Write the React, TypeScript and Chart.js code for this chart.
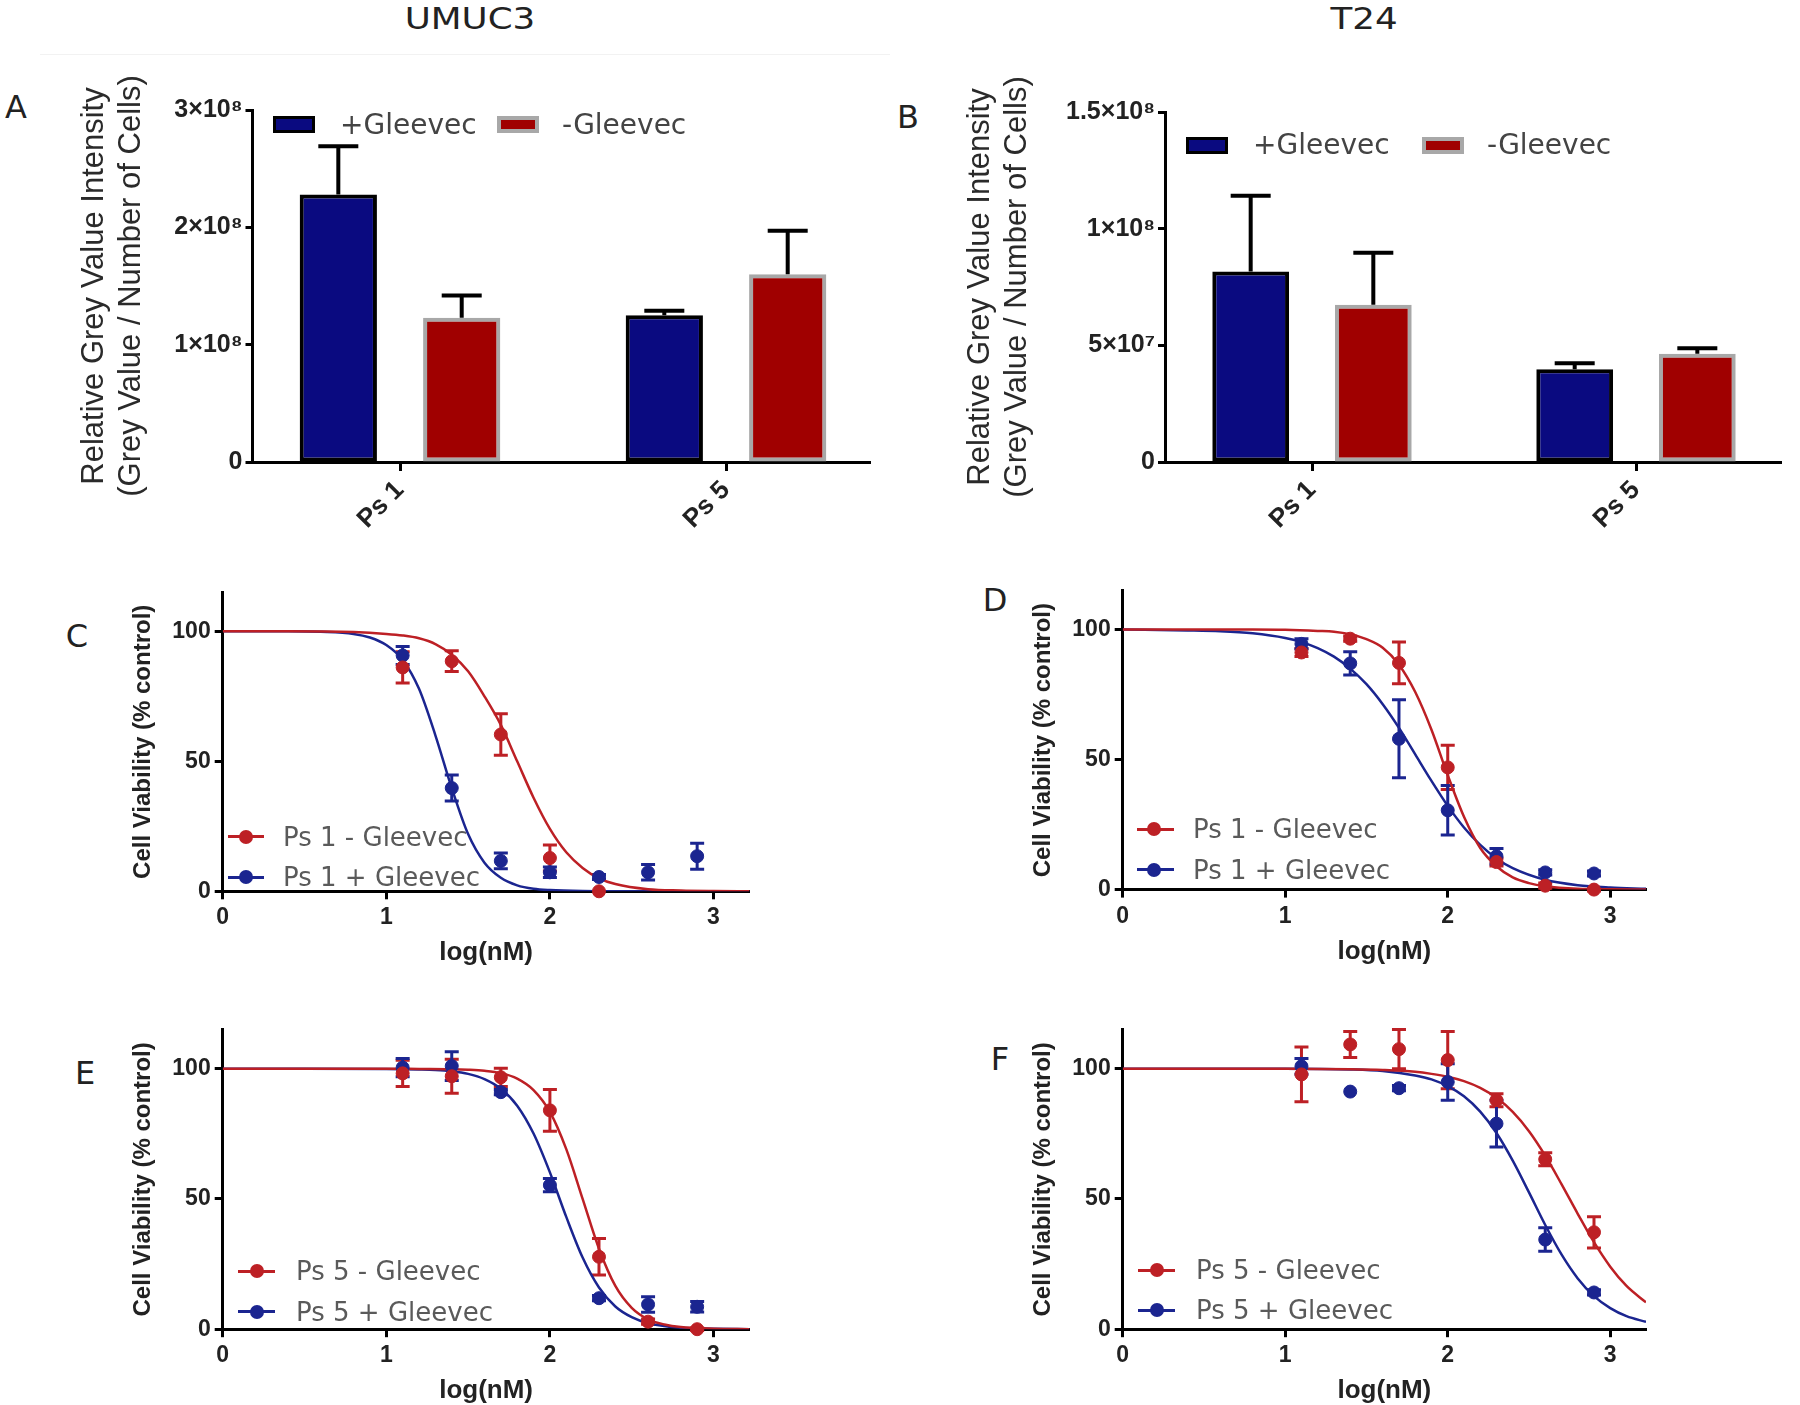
import React, { useEffect, useRef } from 'react';
import { Chart, registerables } from 'chart.js';

Chart.register(...registerables);
Chart.defaults.font.family = "'Liberation Sans', Arial, sans-serif";
Chart.defaults.color = '#222';

// ---------------- DATA ----------------
const BAR_CATEGORIES = ['Ps 1', 'Ps 5'];
const BAR_SERIES = ['+Gleevec', '-Gleevec'];

const UMUC3_PLUS = [2.28e8, 1.25e8];
const UMUC3_PLUS_ERR = [0.41e8, 0.04e8];
const UMUC3_MINUS = [1.23e8, 1.6e8];
const UMUC3_MINUS_ERR = [0.19e8, 0.37e8];
const UMUC3_TICKS = [0, 1e8, 2e8, 3e8];
const UMUC3_TICK_LABELS = ['0', '1×10⁸', '2×10⁸', '3×10⁸'];

const T24_PLUS = [8.16e7, 3.98e7];
const T24_PLUS_ERR = [3.25e7, 0.25e7];
const T24_MINUS = [6.74e7, 4.64e7];
const T24_MINUS_ERR = [2.23e7, 0.23e7];
const T24_TICKS = [0, 5e7, 1e8, 1.5e8];
const T24_TICK_LABELS = ['0', '5×10⁷', '1×10⁸', '1.5×10⁸'];

const DOSE_LOG = [1.1, 1.4, 1.7, 2.0, 2.3, 2.6, 2.9];
const X_TICKS = [0, 1, 2, 3];
const Y_TICKS = [0, 50, 100];

// C – UMUC3, Ps 1
const C_MINUS = [86.1, 88.5, 60.3, 12.8, 0, null, null];
const C_MINUS_ERR = [6, 4, 8, 5, 0, null, null];
const C_PLUS = [90.7, 39.7, 11.7, 7.3, 5.5, 7.3, 13.5];
const C_PLUS_ERR = [3.5, 5, 3, 2, 1, 3, 5];
const C_MINUS_FIT_X = [0, 0.4, 0.8, 1.0, 1.1, 1.2, 1.3, 1.4, 1.5, 1.6, 1.7, 1.8, 1.9, 2.0, 2.1, 2.2, 2.3, 2.4, 2.6, 2.8, 3.0, 3.22];
const C_MINUS_FIT_Y = [100, 100, 99.7, 99, 98.4, 97.3, 95.1, 91, 84.6, 75, 64, 50, 36, 24, 15, 9, 5, 2.8, 0.8, 0.3, 0.1, 0];
const C_PLUS_FIT_X = [0, 0.4, 0.6, 0.8, 0.9, 1.0, 1.1, 1.2, 1.3, 1.4, 1.5, 1.6, 1.7, 1.8, 1.9, 2.0, 2.2, 2.4, 3.22];
const C_PLUS_FIT_Y = [100, 100, 99.8, 99, 97.6, 94.7, 89, 77.9, 60, 39.7, 22, 11, 5.2, 2.3, 1.0, 0.5, 0.1, 0, 0];

// D – T24, Ps 1
const D_MINUS = [91.2, 96.5, 87.2, 47, 10.6, 1.5, 0];
const D_MINUS_ERR = [1.5, 1, 8, 8.5, 1.5, 1, 0.5];
const D_PLUS = [94.5, 87, 58, 30.5, 12.8, 6.6, 6.2];
const D_PLUS_ERR = [2, 4.5, 15, 9.5, 3, 1, 1];
const D_MINUS_FIT_X = [0, 0.4, 0.8, 1.0, 1.2, 1.3, 1.4, 1.5, 1.6, 1.7, 1.8, 1.9, 2.0, 2.1, 2.2, 2.3, 2.4, 2.5, 2.6, 2.8, 3.0, 3.22];
const D_MINUS_FIT_Y = [100, 100, 100, 99.9, 99.5, 99.2, 98.2, 96.3, 93, 86.5, 76, 61.5, 44, 28, 16, 9, 4.7, 2.5, 1.3, 0.3, 0.1, 0];
const D_PLUS_FIT_X = [0, 0.4, 0.6, 0.8, 1.0, 1.1, 1.2, 1.3, 1.4, 1.5, 1.6, 1.7, 1.8, 1.9, 2.0, 2.1, 2.2, 2.3, 2.4, 2.6, 2.8, 3.0, 3.22];
const D_PLUS_FIT_Y = [100, 99.7, 99.4, 98.6, 96.8, 95.2, 92.9, 89.6, 85, 79, 71.3, 62.2, 52, 41.8, 32.2, 23.9, 17.2, 12, 8.3, 3.8, 1.7, 0.8, 0.3];

// E – UMUC3, Ps 5
const E_MINUS = [98.2, 97.1, 96.7, 84, 27.8, 2.9, 0];
const E_MINUS_ERR = [5, 6.5, 3.5, 8, 7, 1, 0.5];
const E_PLUS = [100.4, 101, 91, 55.3, 11.9, 9.5, 8.6];
const E_PLUS_ERR = [3.5, 5.5, 1, 2.5, 1, 3, 2];
const E_MINUS_FIT_X = [0, 0.5, 1.0, 1.2, 1.4, 1.5, 1.6, 1.7, 1.8, 1.9, 2.0, 2.1, 2.2, 2.3, 2.4, 2.5, 2.6, 2.7, 2.8, 3.0, 3.22];
const E_MINUS_FIT_Y = [100, 100, 100, 99.9, 99.8, 99.6, 99.2, 98.3, 96.2, 91.8, 83.4, 69.1, 50, 30.9, 16.6, 8.2, 3.8, 1.8, 0.8, 0.2, 0];
const E_PLUS_FIT_X = [0, 0.5, 1.0, 1.2, 1.3, 1.4, 1.5, 1.6, 1.7, 1.8, 1.9, 2.0, 2.1, 2.2, 2.3, 2.4, 2.5, 2.6, 2.8, 3.0, 3.22];
const E_PLUS_FIT_Y = [100, 100, 99.9, 99.7, 99.5, 99, 98, 96, 92.3, 85.8, 75.1, 60.2, 43.1, 27.5, 16, 8.7, 4.6, 2.3, 0.6, 0.2, 0];

// F – T24, Ps 5
const F_MINUS = [97.8, 109.3, 107.5, 103.3, 87.9, 65.2, 37.2];
const F_MINUS_ERR = [10.5, 5, 7.5, 11, 2.5, 2.5, 6];
const F_PLUS = [100.9, 91.2, 92.5, 94.9, 78.9, 34.4, 14.1];
const F_PLUS_ERR = [3, 0, 1, 7, 9, 4.5, 1];
const F_MINUS_FIT_X = [0, 0.5, 1.0, 1.4, 1.6, 1.8, 1.9, 2.0, 2.1, 2.2, 2.3, 2.4, 2.5, 2.6, 2.7, 2.8, 2.9, 3.0, 3.1, 3.22];
const F_MINUS_FIT_Y = [100, 100, 100, 99.8, 99.5, 98.8, 98, 96.9, 95.2, 92.6, 88.8, 83.4, 76, 66.6, 55.7, 44.3, 33.4, 24, 16.6, 10.3];
const F_PLUS_FIT_X = [0, 0.5, 1.0, 1.4, 1.6, 1.8, 1.9, 2.0, 2.1, 2.2, 2.3, 2.4, 2.5, 2.6, 2.7, 2.8, 2.9, 3.0, 3.1, 3.22];
const F_PLUS_FIT_Y = [100, 100, 100, 99.7, 99.1, 97.4, 95.9, 93.3, 89.4, 83.5, 75.3, 64.7, 52.5, 40, 28.7, 19.5, 12.7, 8.1, 5, 2.8];

// ---------------- STYLE ----------------
const NAVY = '#0a0a80';
const DARK_RED = '#a00000';
const RED = '#bd2025';
const BLUE = '#1b2590';
const DEJAVU = "'DejaVu Sans', sans-serif";

type Geo = { cl: number; ct: number; cw: number; ch: number; pl: number; pt: number; pr: number; pb: number };

function padFor(g: Geo, yW: number, xH: number) {
  return {
    left: g.pl - g.cl - yW,
    top: g.pt - g.ct,
    right: g.cl + g.cw - g.pr,
    bottom: g.ct + g.ch - g.pb - xH,
  };
}

function yOf(d: any) {
  return typeof d === 'object' && d !== null ? d.y : d;
}

const errorBarPlugin = {
  id: 'errorBars',
  beforeDatasetsDraw(chart: any) {
    const mode = chart.options.plugins.errorBars?.mode;
    if (mode !== 'point') return;
    const ctx = chart.ctx;
    const ys = chart.scales.y;
    chart.data.datasets.forEach((ds: any, i: number) => {
      if (!ds.errors) return;
      const meta = chart.getDatasetMeta(i);
      ctx.save();
      ctx.strokeStyle = ds.borderColor;
      ctx.lineWidth = 3;
      meta.data.forEach((el: any, j: number) => {
        const e = ds.errors[j];
        const v = yOf(ds.data[j]);
        if (!e) return;
        const yt = ys.getPixelForValue(v + e);
        const yb = ys.getPixelForValue(v - e);
        const x = el.x;
        ctx.beginPath();
        ctx.moveTo(x, yt);
        ctx.lineTo(x, yb);
        ctx.moveTo(x - 7, yt);
        ctx.lineTo(x + 7, yt);
        ctx.moveTo(x - 7, yb);
        ctx.lineTo(x + 7, yb);
        ctx.stroke();
      });
      ctx.restore();
    });
  },
  afterDatasetsDraw(chart: any) {
    const mode = chart.options.plugins.errorBars?.mode;
    if (mode !== 'bar') return;
    const ctx = chart.ctx;
    const ys = chart.scales.y;
    chart.data.datasets.forEach((ds: any, i: number) => {
      if (!ds.errors) return;
      const meta = chart.getDatasetMeta(i);
      ctx.save();
      ctx.strokeStyle = '#000';
      ctx.lineWidth = 4;
      meta.data.forEach((el: any, j: number) => {
        const e = ds.errors[j];
        const v = yOf(ds.data[j]);
        const yt = ys.getPixelForValue(v + e);
        const x = el.x;
        ctx.beginPath();
        ctx.moveTo(x, el.y);
        ctx.lineTo(x, yt);
        ctx.moveTo(x - 20, yt);
        ctx.lineTo(x + 20, yt);
        ctx.stroke();
      });
      ctx.restore();
    });
  },
};

function barPoints(vals: number[]) {
  return vals.map((v, i) => ({ x: i + 1, y: v }));
}

function barConfig(
  g: Geo, yW: number, titlePad: number, xMin: number, xMax: number,
  plus: number[], plusErr: number[], minus: number[], minusErr: number[],
  tickVals: number[], tickLabels: string[],
) {
  const X_H = 110;
  const common = { borderWidth: 4, borderSkipped: false, barPercentage: 0.626, categoryPercentage: 0.757 };
  return {
    type: 'bar',
    data: {
      datasets: [
        { label: BAR_SERIES[0], data: barPoints(plus), errors: plusErr, backgroundColor: NAVY, borderColor: '#000', ...common },
        { label: BAR_SERIES[1], data: barPoints(minus), errors: minusErr, backgroundColor: DARK_RED, borderColor: '#a8a8a8', ...common },
      ],
    },
    options: {
      responsive: false,
      animation: false,
      layout: { padding: padFor(g, yW, X_H) },
      plugins: { legend: { display: false }, tooltip: { enabled: false }, errorBars: { mode: 'bar' } },
      scales: {
        x: {
          type: 'linear',
          min: xMin,
          max: xMax,
          offset: false,
          afterBuildTicks: (s: any) => { s.ticks = BAR_CATEGORIES.map((_c, i) => ({ value: i + 1 })); },
          grid: { display: true, drawOnChartArea: false, offset: false, tickLength: 9, tickWidth: 3, tickColor: '#000' },
          border: { display: true, color: '#000', width: 3 },
          ticks: {
            font: { size: 26, weight: 'bold' }, color: '#222', minRotation: 45, maxRotation: 45, padding: 4, autoSkip: false,
            callback: (_v: any, i: number) => BAR_CATEGORIES[i],
          },
          afterFit: (s: any) => { s.height = X_H; },
        },
        y: {
          type: 'linear',
          min: tickVals[0],
          max: tickVals[tickVals.length - 1],
          afterBuildTicks: (s: any) => { s.ticks = tickVals.map((v) => ({ value: v })); },
          grid: { display: true, drawOnChartArea: false, tickLength: 7, tickWidth: 3, tickColor: '#000' },
          border: { display: true, color: '#000', width: 3 },
          ticks: {
            font: { size: 25, weight: 'bold' }, color: '#222', padding: 3,
            callback: (_v: any, i: number) => tickLabels[i],
          },
          title: {
            display: true,
            text: ['Relative Grey Value Intensity', '(Grey Value / Number of Cells)'],
            font: { size: 31, lineHeight: 1.2 },
            color: '#2a2a2a',
            padding: { top: titlePad, bottom: 0 },
          },
          afterFit: (s: any) => { s.width = yW; },
        },
      },
    },
    plugins: [errorBarPlugin],
  };
}

function pts(mean: (number | null)[]) {
  const out: { x: number; y: number }[] = [];
  mean.forEach((m, i) => { if (m !== null) out.push({ x: DOSE_LOG[i], y: m }); });
  return out;
}
function errs(mean: (number | null)[], err: (number | null)[]) {
  const out: number[] = [];
  mean.forEach((m, i) => { if (m !== null) out.push(err[i] as number); });
  return out;
}
function fit(xs: number[], ys: number[]) {
  return xs.map((x, i) => ({ x, y: ys[i] }));
}

function curveConfig(
  g: Geo,
  minus: (number | null)[], minusErr: (number | null)[], plus: (number | null)[], plusErr: (number | null)[],
  mfx: number[], mfy: number[], pfx: number[], pfy: number[],
) {
  const Y_W = 122.7;
  const X_H = 75;
  return {
    type: 'scatter',
    data: {
      datasets: [
        {
          data: pts(minus), errors: errs(minus, minusErr), showLine: false,
          pointRadius: 6.5, pointBackgroundColor: RED, pointBorderColor: RED, borderColor: RED, backgroundColor: RED, clip: false,
        },
        {
          data: pts(plus), errors: errs(plus, plusErr), showLine: false,
          pointRadius: 6.5, pointBackgroundColor: BLUE, pointBorderColor: BLUE, borderColor: BLUE, backgroundColor: BLUE, clip: false,
        },
        {
          data: fit(mfx, mfy), showLine: true, pointRadius: 0, borderColor: RED, borderWidth: 2.5,
          cubicInterpolationMode: 'monotone', fill: false,
        },
        {
          data: fit(pfx, pfy), showLine: true, pointRadius: 0, borderColor: BLUE, borderWidth: 2.5,
          cubicInterpolationMode: 'monotone', fill: false,
        },
      ],
    },
    options: {
      responsive: false,
      animation: false,
      layout: { padding: padFor(g, Y_W, X_H) },
      plugins: { legend: { display: false }, tooltip: { enabled: false }, errorBars: { mode: 'point' } },
      scales: {
        x: {
          type: 'linear', min: 0, max: 3.22,
          afterBuildTicks: (s: any) => { s.ticks = X_TICKS.map((v) => ({ value: v })); },
          grid: { display: true, drawOnChartArea: false, tickLength: 8, tickWidth: 3, tickColor: '#000' },
          border: { display: true, color: '#000', width: 3 },
          ticks: { font: { size: 23, weight: 'bold' }, color: '#222', padding: 5, maxRotation: 0, callback: (v: any) => String(v) },
          title: {
            display: true, text: 'log(nM)', font: { size: 26, weight: 'bold', lineHeight: 1.0 }, color: '#222',
            padding: { top: 0, bottom: 0 },
          },
          afterFit: (s: any) => { s.height = X_H; },
        },
        y: {
          type: 'linear', min: 0, max: 115,
          afterBuildTicks: (s: any) => { s.ticks = Y_TICKS.map((v) => ({ value: v })); },
          grid: { display: true, drawOnChartArea: false, tickLength: 8, tickWidth: 3, tickColor: '#000' },
          border: { display: true, color: '#000', width: 3 },
          ticks: { font: { size: 23, weight: 'bold' }, color: '#222', padding: 4, callback: (v: any) => String(v) },
          title: {
            display: true, text: 'Cell Viability (% control)', font: { size: 24, weight: 'bold', lineHeight: 1.2 }, color: '#222',
            padding: { top: 29.1, bottom: 0 },
          },
          afterFit: (s: any) => { s.width = Y_W; },
        },
      },
    },
    plugins: [errorBarPlugin],
  };
}

function ChartBox({ geo, make }: { geo: Geo; make: () => any }) {
  const ref = useRef<HTMLCanvasElement | null>(null);
  useEffect(() => {
    if (!ref.current) return;
    const chart = new Chart(ref.current, make());
    return () => chart.destroy();
  }, []);
  return (
    <canvas
      ref={ref}
      width={geo.cw}
      height={geo.ch}
      style={{ position: 'absolute', left: geo.cl, top: geo.ct, width: geo.cw, height: geo.ch }}
    />
  );
}

function Text({ x, y, children, size, family = DEJAVU, color = '#222', anchor = 'center', weight = 'normal', sx = 1 }: any) {
  const tx = anchor === 'center' ? '-50%' : '0';
  return (
    <div
      style={{
        position: 'absolute', left: x, top: y, whiteSpace: 'nowrap',
        transform: `translate(${tx}, -50%) scaleX(${sx})`,
        transformOrigin: anchor === 'center' ? 'center' : 'left center',
        fontFamily: family, fontSize: size, color, fontWeight: weight, lineHeight: 1,
      }}
    >
      {children}
    </div>
  );
}

function BarLegend({ x1, x2, tx1, tx2, y }: any) {
  return (
    <>
      <div style={{ position: 'absolute', left: x1, top: y - 8.5, width: 42, height: 17, boxSizing: 'border-box', background: NAVY, border: '3px solid #000' }} />
      <Text x={tx1} y={y} size={28} anchor="left" color="#444">{BAR_SERIES[0]}</Text>
      <div style={{ position: 'absolute', left: x2, top: y - 8.5, width: 42, height: 17, boxSizing: 'border-box', background: DARK_RED, border: '4px solid #a8a8a8' }} />
      <Text x={tx2} y={y} size={28} anchor="left" color="#444">{BAR_SERIES[1]}</Text>
    </>
  );
}

function CurveLegend({ lx1, lx2, mx, tx, rows }: any) {
  return (
    <>
      {rows.map((r: any, i: number) => (
        <React.Fragment key={i}>
          <div style={{ position: 'absolute', left: lx1, top: r.y - 1.5, width: lx2 - lx1, height: 3, background: r.color }} />
          <div style={{ position: 'absolute', left: mx - 7, top: r.y - 7, width: 14, height: 14, borderRadius: 7, background: r.color }} />
          <Text x={tx} y={r.y} size={26} anchor="left" color="#5a5a5a">{r.text}</Text>
        </React.Fragment>
      ))}
    </>
  );
}

const GEO_A: Geo = { cl: 0, ct: 60, cw: 900, ch: 520, pl: 252.5, pt: 110, pr: 870, pb: 462 };
const GEO_B: Geo = { cl: 900, ct: 60, cw: 900, ch: 520, pl: 1165, pt: 112, pr: 1781, pb: 462 };
const GEO_C: Geo = { cl: 0, ct: 560, cw: 900, ch: 420, pl: 222.7, pt: 592.3, pr: 749.5, pb: 891.3 };
const GEO_D: Geo = { cl: 900, ct: 560, cw: 900, ch: 420, pl: 1122.7, pt: 590.6, pr: 1646, pb: 889.6 };
const GEO_E: Geo = { cl: 0, ct: 1000, cw: 900, ch: 405, pl: 222.7, pt: 1029.6, pr: 749.5, pb: 1329.2 };
const GEO_F: Geo = { cl: 900, ct: 1000, cw: 900, ch: 405, pl: 1122.7, pt: 1029.6, pr: 1646, pb: 1329.2 };

export default function App() {
  return (
    <div style={{ position: 'absolute', left: 0, top: 0, width: 1800, height: 1405, background: '#fff', overflow: 'hidden' }}>
      <Text x={470} y={18} size={31} sx={1.15}>UMUC3</Text>
      <Text x={1364} y={18} size={31} sx={1.15}>T24</Text>
      <div style={{ position: 'absolute', left: 40, top: 54, width: 850, height: 1, background: '#f2f2f2' }} />

      <Text x={16} y={107} size={32}>A</Text>
      <Text x={908} y={117} size={32}>B</Text>
      <Text x={77} y={636} size={32}>C</Text>
      <Text x={995} y={600} size={32}>D</Text>
      <Text x={85} y={1073} size={32}>E</Text>
      <Text x={1000} y={1059} size={32}>F</Text>

      <ChartBox geo={GEO_A} make={() => barConfig(GEO_A, 192.5, 15.4, 0.5475, 2.4417, UMUC3_PLUS, UMUC3_PLUS_ERR, UMUC3_MINUS, UMUC3_MINUS_ERR, UMUC3_TICKS, UMUC3_TICK_LABELS)} />
      <ChartBox geo={GEO_B} make={() => barConfig(GEO_B, 220, 16.4, 0.5463, 2.4475, T24_PLUS, T24_PLUS_ERR, T24_MINUS, T24_MINUS_ERR, T24_TICKS, T24_TICK_LABELS)} />
      <BarLegend x1={273} x2={497} tx1={340} tx2={562} y={124.5} />
      <BarLegend x1={1186} x2={1422} tx1={1253} tx2={1487} y={145} />

      <ChartBox geo={GEO_C} make={() => curveConfig(GEO_C, C_MINUS, C_MINUS_ERR, C_PLUS, C_PLUS_ERR, C_MINUS_FIT_X, C_MINUS_FIT_Y, C_PLUS_FIT_X, C_PLUS_FIT_Y)} />
      <ChartBox geo={GEO_D} make={() => curveConfig(GEO_D, D_MINUS, D_MINUS_ERR, D_PLUS, D_PLUS_ERR, D_MINUS_FIT_X, D_MINUS_FIT_Y, D_PLUS_FIT_X, D_PLUS_FIT_Y)} />
      <ChartBox geo={GEO_E} make={() => curveConfig(GEO_E, E_MINUS, E_MINUS_ERR, E_PLUS, E_PLUS_ERR, E_MINUS_FIT_X, E_MINUS_FIT_Y, E_PLUS_FIT_X, E_PLUS_FIT_Y)} />
      <ChartBox geo={GEO_F} make={() => curveConfig(GEO_F, F_MINUS, F_MINUS_ERR, F_PLUS, F_PLUS_ERR, F_MINUS_FIT_X, F_MINUS_FIT_Y, F_PLUS_FIT_X, F_PLUS_FIT_Y)} />

      <CurveLegend lx1={228} lx2={264} mx={246} tx={283} rows={[{ y: 836.8, color: RED, text: 'Ps 1 - Gleevec' }, { y: 877, color: BLUE, text: 'Ps 1 + Gleevec' }]} />
      <CurveLegend lx1={1137} lx2={1174} mx={1154} tx={1193} rows={[{ y: 829.3, color: RED, text: 'Ps 1 - Gleevec' }, { y: 869.5, color: BLUE, text: 'Ps 1 + Gleevec' }]} />
      <CurveLegend lx1={238} lx2={275} mx={257} tx={296} rows={[{ y: 1271.3, color: RED, text: 'Ps 5 - Gleevec' }, { y: 1311.5, color: BLUE, text: 'Ps 5 + Gleevec' }]} />
      <CurveLegend lx1={1138} lx2={1175} mx={1157} tx={1196} rows={[{ y: 1270, color: RED, text: 'Ps 5 - Gleevec' }, { y: 1310.3, color: BLUE, text: 'Ps 5 + Gleevec' }]} />
    </div>
  );
}
